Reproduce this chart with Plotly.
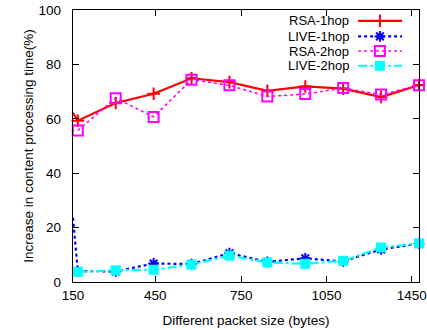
import plotly.graph_objects as go

# ---- data ----
x_tick_labels = ["150", "450", "750", "1050", "1450"]
x_tick_pos = [-0.127, 2.045, 4.31, 6.56, 8.81]
point_pos = [0, 1, 2, 3, 4, 5, 6, 7, 8, 9]
edge_pos = -0.127

series_names = ["RSA-1hop", "LIVE-1hop", "RSA-2hop", "LIVE-2hop"]
rsa_1hop = [59.3, 65.8, 69.2, 74.9, 73.5, 70.3, 71.9, 71.1, 68.0, 72.4]
rsa_1hop_edge = 62.2
live_1hop = [4.0, 3.9, 6.8, 6.6, 10.6, 7.4, 8.7, 7.6, 12.0, 14.1]
live_1hop_edge = 23.6
rsa_2hop = [55.7, 67.6, 60.7, 74.4, 72.3, 68.2, 69.1, 71.3, 68.9, 72.3]
live_2hop = [3.7, 4.3, 4.5, 6.4, 9.7, 7.2, 6.7, 7.8, 12.7, 14.2]

y_ticks = [0, 20, 40, 60, 80, 100]

FONT = "Liberation Sans, Arial, Helvetica, sans-serif"
FS = 13.5

styles = [
    dict(color="#ff0000", dash="solid", width=2.2, symbol="cross-thin", msize=9, mlw=2),
    dict(color="#0000ff", dash="dot", width=2.2, symbol="asterisk", msize=9, mlw=2),
    dict(color="#ff00ff", dash="dot", width=1.6, symbol="square-open", msize=10, mlw=2),
    dict(color="#00ffff", dash="dashdot", width=2.2, symbol="square", msize=10, mlw=0),
]

series_x = [[edge_pos] + point_pos, [edge_pos] + point_pos, point_pos, point_pos]
series_y = [[rsa_1hop_edge] + rsa_1hop, [live_1hop_edge] + live_1hop, rsa_2hop, live_2hop]
series_pts = [rsa_1hop, live_1hop, rsa_2hop, live_2hop]

fig = go.Figure()

for name, st, xs, ys, pts in zip(series_names, styles, series_x, series_y, series_pts):
    fig.add_trace(go.Scatter(
        x=xs, y=ys, mode="lines", name=name, showlegend=False,
        line=dict(color=st["color"], dash=st["dash"], width=st["width"]),
        cliponaxis=False,
    ))
    fig.add_trace(go.Scatter(
        x=point_pos, y=pts, mode="markers", showlegend=False,
        marker=dict(symbol=st["symbol"], size=st["msize"], color=st["color"],
                    line=dict(color=st["color"], width=st["mlw"])),
        cliponaxis=False,
    ))

# ---- gnuplot-style key (text left, sample right) on an auxiliary 0..1 axis ----
key_rows = [0.960, 0.903, 0.849, 0.795]
key_x = [0.824, 0.951]
key_mid = 0.887
for name, st, ry in zip(series_names, styles, key_rows):
    fig.add_trace(go.Scatter(
        x=key_x, y=[ry, ry], mode="lines", xaxis="x2", yaxis="y2", showlegend=False,
        line=dict(color=st["color"], dash=st["dash"], width=st["width"]),
        cliponaxis=False, hoverinfo="skip",
    ))
    fig.add_trace(go.Scatter(
        x=[key_mid], y=[ry], mode="markers", xaxis="x2", yaxis="y2", showlegend=False,
        marker=dict(symbol=st["symbol"], size=st["msize"], color=st["color"],
                    line=dict(color=st["color"], width=st["mlw"])),
        cliponaxis=False, hoverinfo="skip",
    ))
    fig.add_annotation(x=0.801, y=ry, xref="x2", yref="y2", text=name, showarrow=False,
                       xanchor="right", yanchor="middle", borderpad=0,
                       font=dict(family=FONT, size=13, color="black"))

fig.update_layout(
    width=427, height=330,
    margin=dict(l=73, r=8, t=10, b=48, autoexpand=False),
    plot_bgcolor="white", paper_bgcolor="white",
    font=dict(family=FONT, size=FS, color="black"),
    hovermode=False,
    xaxis=dict(
        range=[edge_pos, 9.0], automargin=False,
        tickmode="array", tickvals=x_tick_pos, ticktext=x_tick_labels,
        ticks="inside", ticklen=6, tickcolor="black", tickwidth=1,
        showline=True, linecolor="black", linewidth=1.3, mirror="ticks",
        showgrid=False, zeroline=False,
        title=dict(text="Different packet size (bytes)", font=dict(size=FS), standoff=14),
        tickfont=dict(size=FS),
    ),
    yaxis=dict(
        range=[0, 100], automargin=False,
        tickmode="array", tickvals=y_ticks,
        ticks="inside", ticklen=6, tickcolor="black", tickwidth=1,
        showline=True, linecolor="black", linewidth=1.3, mirror="ticks",
        showgrid=False, zeroline=False, ticklabelstandoff=8,
        title=dict(text="Increase in content processing time(%)", font=dict(size=FS), standoff=1),
        tickfont=dict(size=FS),
    ),
    xaxis2=dict(overlaying="x", range=[0, 1], visible=False, fixedrange=True),
    yaxis2=dict(overlaying="y", range=[0, 1], visible=False, fixedrange=True),
)

fig.write_html(
    "out.html",
    config={"displayModeBar": False, "staticPlot": True},
    post_script="document.body.style.margin='0';document.body.style.padding='0';"
                "document.body.style.overflow='hidden';",
)
